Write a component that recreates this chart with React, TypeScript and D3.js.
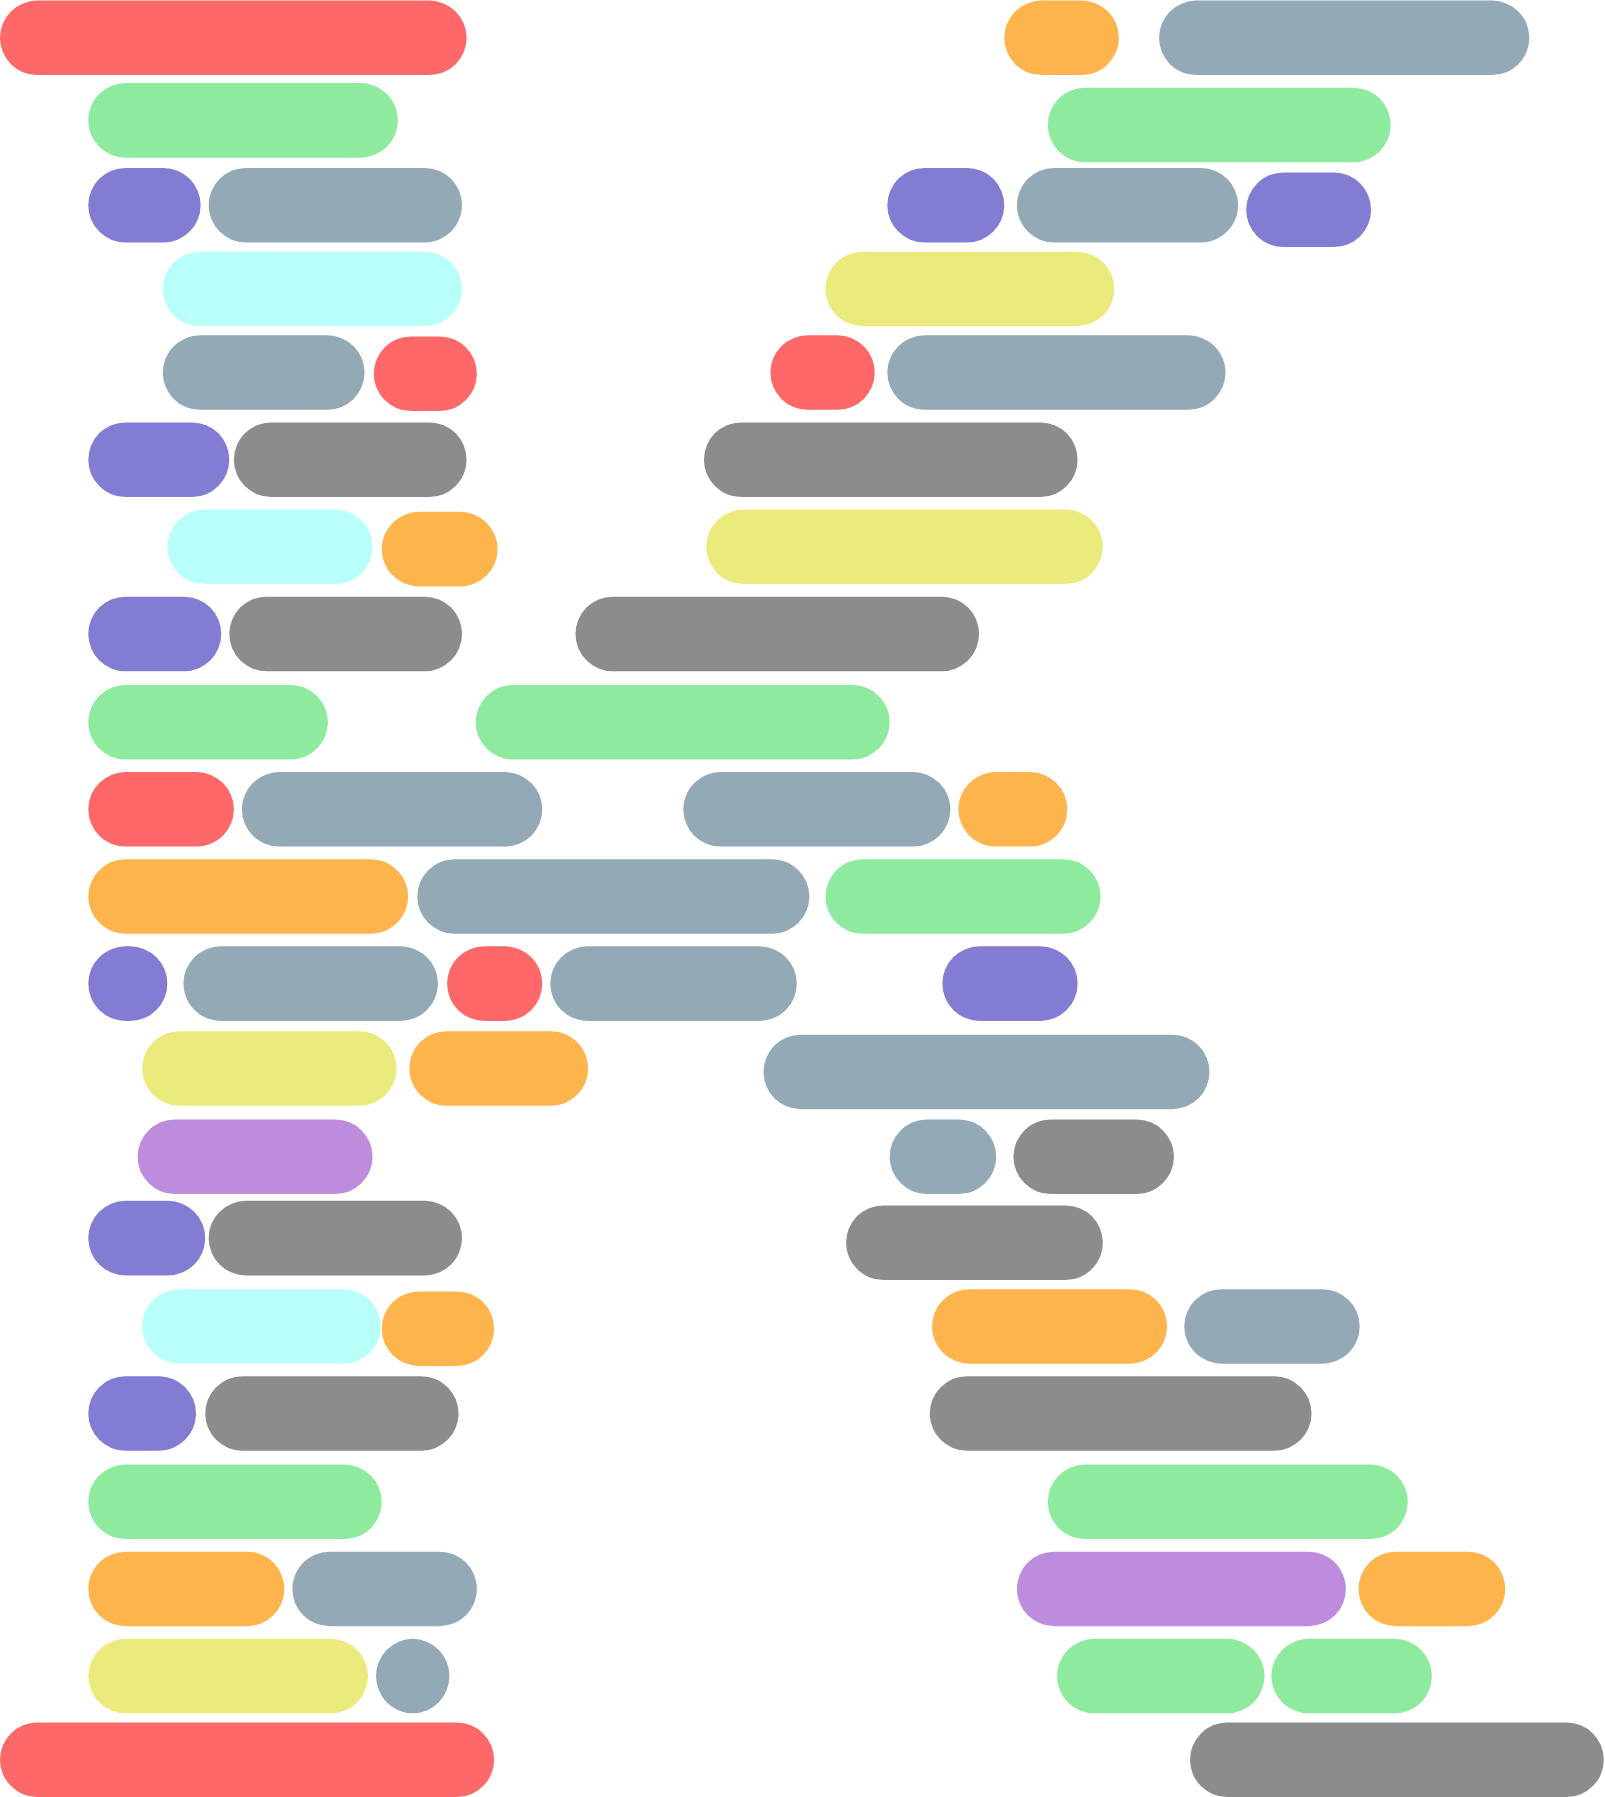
import React from "react";
import * as d3 from "d3";

// colour keys
const palette: Record<string, string> = {
  red: "#ff6868",
  orange: "#fdb44c",
  slate: "#93a9b5",
  green: "#8eea9c",
  purple: "#827cd2",
  cyan: "#b8fffa",
  yellow: "#ebeb7d",
  gray: "#8c8c8c",
  violet: "#bd8cdc",
};

// [centre y, start, end, colour] in source units
const leftBars: [number, number, number, string][] = [
  [33, 0, 407, "red"],
  [105, 77, 347, "green"],
  [179, 77, 175, "purple"], [179, 182, 403, "slate"],
  [252, 142, 403, "cyan"],
  [325, 142, 318, "slate"], [326, 326, 416, "red"],
  [401, 77, 200, "purple"], [401, 204, 407, "gray"],
  [477, 146, 325, "cyan"], [479, 333, 434, "orange"],
  [553, 77, 193, "purple"], [553, 200, 403, "gray"],
  [630, 77, 286, "green"],
  [706, 77, 204, "red"], [706, 211, 473, "slate"],
  [782, 77, 356, "orange"], [782, 364, 706, "slate"],
  [858, 77, 146, "purple"], [858, 160, 382, "slate"], [858, 390, 473, "red"], [858, 480, 695, "slate"],
  [932, 124, 346, "yellow"], [932, 357, 513, "orange"],
  [1009, 120, 325, "violet"],
  [1080, 77, 179, "purple"], [1080, 182, 403, "gray"],
  [1157, 124, 332, "cyan"], [1159, 333, 431, "orange"],
  [1233, 77, 171, "purple"], [1233, 179, 400, "gray"],
  [1310, 77, 333, "green"],
  [1386, 77, 248, "orange"], [1386, 255, 416, "slate"],
  [1462, 77, 321, "yellow"], [1462, 328, 392, "slate"],
  [1535, 0, 431, "red"],
];

const rightBars: [number, number, number, string][] = [
  [33, 876, 976, "orange"], [33, 1011, 1334, "slate"],
  [109, 914, 1213, "green"],
  [179, 774, 876, "purple"], [179, 887, 1080, "slate"], [183, 1087, 1196, "purple"],
  [252, 720, 972, "yellow"],
  [325, 672, 763, "red"], [325, 774, 1069, "slate"],
  [401, 614, 940, "gray"],
  [477, 616, 962, "yellow"],
  [553, 502, 854, "gray"],
  [630, 415, 776, "green"],
  [706, 596, 829, "slate"], [706, 836, 931, "orange"],
  [782, 720, 960, "green"],
  [858, 822, 940, "purple"],
  [935, 666, 1055, "slate"],
  [1009, 776, 869, "slate"], [1009, 884, 1024, "gray"],
  [1084, 738, 962, "gray"],
  [1157, 813, 1018, "orange"], [1157, 1033, 1186, "slate"],
  [1233, 811, 1144, "gray"],
  [1310, 914, 1228, "green"],
  [1386, 887, 1174, "violet"], [1386, 1185, 1313, "orange"],
  [1462, 922, 1103, "green"], [1462, 1109, 1249, "green"],
  [1535, 1038, 1399, "gray"],
];

const width = 1605;
const height = 1797;

const App: React.FC = () => {
  const x = d3.scaleLinear().domain([0, 1400]).range([0, width]);
  const y = d3.scaleLinear().domain([0, 1567.5]).range([0, height]);
  const barH = y(65) - y(0);
  const bars = [...leftBars, ...rightBars];

  return (
    <svg
      width={width}
      height={height}
      style={{ position: "absolute", left: 0, top: 0, background: "#fff" }}
    >
      {bars.map(([cy, x0, x1, c], i) => (
        <rect
          key={i}
          x={x(x0)}
          y={y(cy) - barH / 2}
          width={x(x1) - x(x0)}
          height={barH}
          rx={barH / 2}
          ry={barH / 2}
          fill={palette[c]}
        />
      ))}
    </svg>
  );
};

export default App;
